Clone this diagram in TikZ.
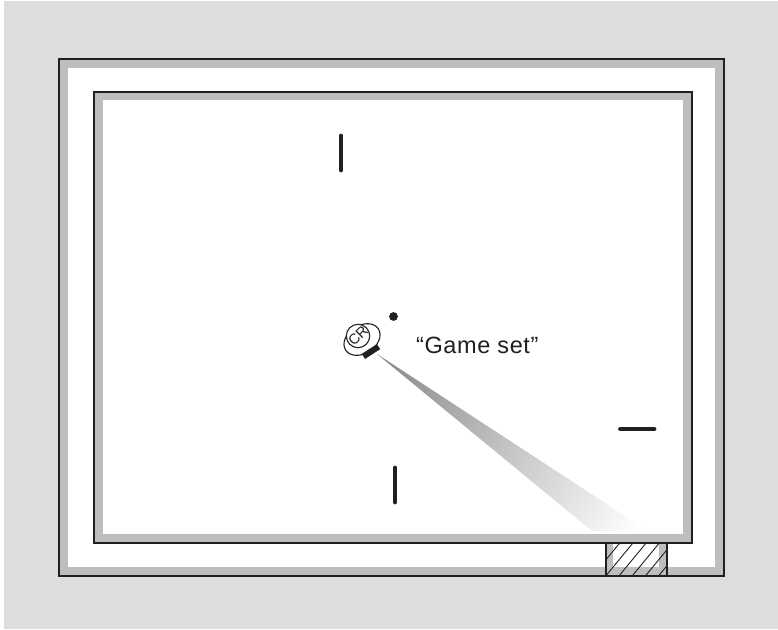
\documentclass[tikz,border=0pt]{standalone}
\usepackage{fontspec}
\setmainfont{Liberation Sans}
\definecolor{bgc}{HTML}{DCDDDE}
\definecolor{band}{HTML}{BCBEC0}
\definecolor{ink}{HTML}{231F20}
\definecolor{beamstart}{HTML}{858688}
\tikzset{
  wall/.style={draw=ink,line width=2.8pt},
  tick/.style={draw=ink,line width=4.8pt,line cap=round},
  hatchline/.style={draw=ink,line width=0.9pt},
  lbl/.style={font=\fontsize{23.5}{28}\selectfont\addfontfeature{LetterSpace=2.5},text=ink,inner sep=0pt,anchor=base west}
}
\begin{document}
\begin{tikzpicture}[x=1pt,y=-1pt]
\useasboundingbox (0,0) rectangle (778,629);
\fill[white] (0,0) rectangle (778,629);
\fill[bgc] (4,1) rectangle (778,629);
% outer frame
\fill[band] (59,59) rectangle (724,576);
\fill[white] (67.5,67.5) rectangle (715,567);
% hatched opening
\begin{scope}
\clip (606,543) rectangle (667,576);
\fill[band] (606,543) rectangle (667,576);
\fill[white] (613,543) rectangle (659,567);
\foreach \k in {0,...,8}{
  \draw[hatchline] ({576+13.2*\k},580) -- ({576+13.2*\k+33},540);
}
\end{scope}
\draw[ink,line width=1.2pt] (606,543) -- (606,576) (667,543) -- (667,576);
\draw[wall] (59,59) rectangle (724,576);
% inner frame
\fill[band] (94,92) rectangle (692,543);
\fill[white] (102.5,100) rectangle (683,534);
\draw[wall] (94,92) rectangle (692,543);
% beam
\begin{scope}[transform canvas={shift={(377,354)},rotate=-36}]
\clip (0,0) -- (323.3,-16.1) -- (278,16.8) -- cycle;
\shade[left color=beamstart,right color=white] (0,-50) rectangle (315,50);
\end{scope}
% ticks
\draw[tick] (341,136) -- (341,170);
\draw[tick] (395,468) -- (395,502);
\draw[tick] (620.5,429) -- (654,429);
\fill[ink] (393.5,316.5) circle (4.4);
% CR symbol
\draw[ink,line width=1.1pt,rotate around={33:(362,339.5)}] (362,339.5) ellipse (19.5 and 14);
\fill[white] (358,336) circle (11.7);
\draw[ink,line width=1.1pt] (358,336) circle (11.7);
\node[rotate=45,font=\fontsize{14.5}{16}\selectfont,text=ink,inner sep=0pt] (cr) at (358,336) {CR};
\fill[ink,rotate around={33:(371,351.5)}] (362,348.5) rectangle (380,354.5);
\node[lbl] (gameset) at (416,353) {“Game set”};
\end{tikzpicture}
\end{document}
